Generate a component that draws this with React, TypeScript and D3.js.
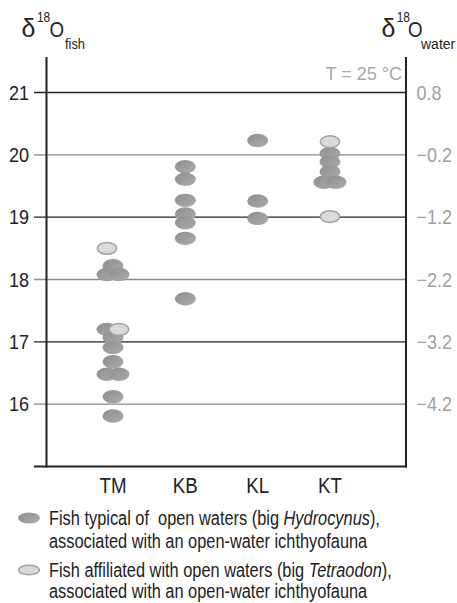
import React from "react";
import * as d3 from "d3";

const categories = ["TM", "KB", "KL", "KT"];
const fishTicks = [21, 20, 19, 18, 17, 16];
const waterTickLabels = ["0.8", "\u22120.2", "\u22121.2", "\u22122.2", "\u22123.2", "\u22124.2"];

// open-water fish (dark) and affiliated fish (light); side = jitter slot for overlapping points
const darkCat = ["TM","TM","TM","TM","TM","TM","TM","TM","TM","TM","TM",
  "KB","KB","KB","KB","KB","KB","KB",
  "KL","KL","KL",
  "KT","KT","KT","KT","KT"];
const darkVal = [18.22,18.08,18.08,17.2,17.07,16.91,16.68,16.48,16.48,16.12,15.81,
  19.81,19.61,19.27,19.05,18.91,18.66,17.69,
  20.23,19.26,18.98,
  20.02,19.89,19.73,19.56,19.56];
const darkSide = [0,-1,1,-1,0,0,0,-1,1,0,0,
  0,0,0,0,0,0,0,
  0,0,0,
  0,0,0,-1,1];
const lightCat = ["TM","TM","KT","KT"];
const lightVal = [18.5,17.2,20.21,19.01];
const lightSide = [-1,1,0,0];

const SANS = "'Liberation Sans', Arial, Helvetica, sans-serif";

type TP = {
  x: number; y: number; size: number; sx?: number; anchor?: string; fill?: string;
  dy?: string; children?: React.ReactNode;
};
function T({ x, y, size, sx = 1, anchor = "start", fill = "#222", dy, children }: TP) {
  return (
    <text transform={`translate(${x},${y}) scale(${sx},1)`} textAnchor={anchor} dy={dy}
      fontFamily={SANS} fontSize={size} fill={fill}>{children}</text>
  );
}

export default function App() {
  const W = 457, H = 603;
  const left = 46.5, right = 406;
  const y = d3.scaleLinear().domain([15, 21]).range([466.5, 92.5]);
  const x = d3.scalePoint<string>().domain(categories).range([113, 330]);
  const jitter = 6;
  const rx = 10.5, ry = 6.7;

  const darkPts = darkVal.map((v, i) => ({ v, c: darkCat[i], s: darkSide[i] }))
    .sort((a, b) => b.v - a.v);
  const lightPts = lightVal.map((v, i) => ({ v, c: lightCat[i], s: lightSide[i] }));

  return (
    <svg width={W} height={H} style={{ position: "fixed", left: 0, top: 0 }}>
      <defs>
        <linearGradient id="darkGrad" x1="0" y1="0" x2="1" y2="1">
          <stop offset="0" stopColor="#8e8e8e" />
          <stop offset="1" stopColor="#ababab" />
        </linearGradient>
      </defs>
      <rect width={W} height={H} fill="#fff" />

      {/* gridlines */}
      {fishTicks.map((t, i) => (
        <line key={"g" + t} x1={34} x2={right} y1={y(t)} y2={y(t)}
          stroke={i % 2 === 0 ? "#222" : "#8a8a8a"} strokeWidth={1.3} />
      ))}

      {/* axes */}
      <line x1={left} x2={left} y1={57} y2={467.5} stroke="#222" strokeWidth={2} />
      <line x1={right} x2={right} y1={57} y2={467.5} stroke="#222" strokeWidth={2} />
      <line x1={34} x2={right + 1} y1={466.5} y2={466.5} stroke="#222" strokeWidth={2} />

      {/* left tick labels */}
      {fishTicks.map(t => (
        <T key={"l" + t} x={29} y={y(t)} dy="0.36em" anchor="end" size={20} sx={0.9}>{t}</T>
      ))}
      {/* right tick labels */}
      {fishTicks.map((t, i) => (
        <T key={"r" + t} x={416.5} y={y(t)} dy="0.36em" size={20} sx={0.9} fill="#a0a0a0">
          {waterTickLabels[i]}
        </T>
      ))}

      {/* headers */}
      <T x={21.5} y={36.5} size={25}>δ</T>
      <T x={37} y={22} size={14} sx={0.85}>18</T>
      <T x={49.5} y={36.5} size={22} sx={0.85}>O</T>
      <T x={65} y={49} size={14} sx={0.92}>fish</T>

      <T x={381.5} y={36.5} size={25}>δ</T>
      <T x={396.7} y={22} size={14} sx={0.85}>18</T>
      <T x={408} y={36.5} size={22} sx={0.85}>O</T>
      <T x={421} y={49} size={14}>water</T>

      <T x={402} y={80} anchor="end" size={18} fill="#a8a8a8">T = 25 °C</T>

      {/* points */}
      {darkPts.map((d, i) => (
        <ellipse key={"d" + i} cx={(x(d.c) as number) + d.s * jitter} cy={y(d.v)} rx={rx} ry={ry}
          fill="url(#darkGrad)" />
      ))}
      {lightPts.map((d, i) => (
        <ellipse key={"lt" + i} cx={(x(d.c) as number) + d.s * jitter} cy={y(d.v)} rx={rx - 0.8} ry={ry - 0.8}
          fill="#dadada" stroke="#a3a3a3" strokeWidth={1.5} />
      ))}

      {/* category labels */}
      {categories.map(c => (
        <T key={c} x={x(c) as number} y={493} anchor="middle" size={21.5} sx={0.87}>{c}</T>
      ))}

      {/* legend */}
      <ellipse cx={29} cy={518} rx={11} ry={5.5} fill="url(#darkGrad)" />
      <T x={49} y={525} size={20} sx={0.818}>
        Fish typical of{"\u00a0"} open waters (big <tspan fontStyle="italic">Hydrocynus</tspan>),
      </T>
      <T x={49} y={548} size={20} sx={0.818}>associated with an open-water ichthyofauna</T>
      <ellipse cx={29} cy={570} rx={10.3} ry={4.8} fill="#dadada" stroke="#a3a3a3" strokeWidth={1.5} />
      <T x={49} y={577} size={20} sx={0.818}>
        Fish affiliated with open waters (big <tspan fontStyle="italic">Tetraodon</tspan>),
      </T>
      <T x={49} y={598} size={20} sx={0.818}>associated with an open-water ichthyofauna</T>
    </svg>
  );
}
